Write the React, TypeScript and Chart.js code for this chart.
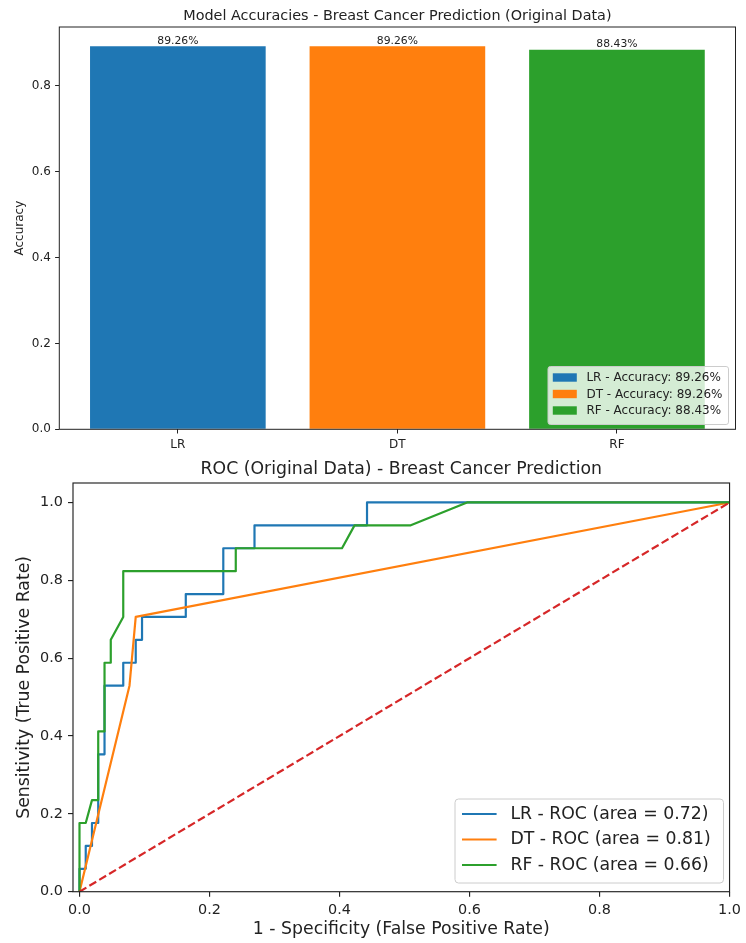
import React, { useEffect, useRef } from 'react';
import { Chart, registerables } from 'chart.js';

Chart.register(...registerables);

const FONT = '"DejaVu Sans", sans-serif';
const INK = '#222222';

// ---------- Accuracy bar chart data ----------
const models = ['LR', 'DT', 'RF'];
const accuracies = [0.8926, 0.8926, 0.8843];
const modelColors = ['#1f77b4', '#ff7f0e', '#2ca02c'];
const accTicks = [0, 0.2, 0.4, 0.6, 0.8];
const accTitle = 'Model Accuracies - Breast Cancer Prediction (Original Data)';

// ---------- ROC data ----------
const lrFpr = [0, 0, 0.0096, 0.0096, 0.0192, 0.0192, 0.0288, 0.0288, 0.0385, 0.0385, 0.0673, 0.0673, 0.0865, 0.0865, 0.0962, 0.0962, 0.1635, 0.1635, 0.2212, 0.2212, 0.2692, 0.2692, 0.4423, 0.4423, 1.0];
const lrTpr = [0, 0.0588, 0.0588, 0.1176, 0.1176, 0.1765, 0.1765, 0.3529, 0.3529, 0.5294, 0.5294, 0.5882, 0.5882, 0.6471, 0.6471, 0.7059, 0.7059, 0.7647, 0.7647, 0.8824, 0.8824, 0.9412, 0.9412, 1.0, 1.0];
const dtFpr = [0, 0.0769, 0.0865, 1.0];
const dtTpr = [0, 0.5294, 0.7059, 1.0];
const rfFpr = [0, 0, 0.0096, 0.0192, 0.0288, 0.0288, 0.0385, 0.0385, 0.0481, 0.0481, 0.0673, 0.0673, 0.2404, 0.2404, 0.4038, 0.4231, 0.5096, 0.5962, 1.0];
const rfTpr = [0, 0.1765, 0.1765, 0.2353, 0.2353, 0.4118, 0.4118, 0.5882, 0.5882, 0.6471, 0.7059, 0.8235, 0.8235, 0.8824, 0.8824, 0.9412, 0.9412, 1.0, 1.0];
const chanceFpr = [0, 1];
const chanceTpr = [0, 1];
const rocAuc = [0.72, 0.81, 0.66];
const rocTicks = [0, 0.2, 0.4, 0.6, 0.8, 1.0];
const rocTitle = 'ROC (Original Data) - Breast Cancer Prediction';
const rocXLabel = '1 - Specificity (False Positive Rate)';
const rocYLabel = 'Sensitivity (True Positive Rate)';

const toPoints = (xs: number[], ys: number[]) => xs.map((x, i) => ({ x, y: ys[i] }));

function roundRect(ctx: CanvasRenderingContext2D, x: number, y: number, w: number, h: number, r: number) {
  ctx.beginPath();
  ctx.moveTo(x + r, y);
  ctx.lineTo(x + w - r, y);
  ctx.arcTo(x + w, y, x + w, y + r, r);
  ctx.lineTo(x + w, y + h - r);
  ctx.arcTo(x + w, y + h, x + w - r, y + h, r);
  ctx.lineTo(x + r, y + h);
  ctx.arcTo(x, y + h, x, y + h - r, r);
  ctx.lineTo(x, y + r);
  ctx.arcTo(x, y, x + r, y, r);
  ctx.closePath();
}

function drawFrame(chart: any, lw: number) {
  const { ctx, chartArea: a } = chart;
  ctx.save();
  ctx.strokeStyle = INK;
  ctx.lineWidth = lw;
  ctx.strokeRect(a.left, a.top, a.right - a.left, a.bottom - a.top);
  ctx.restore();
}

const accDecor = {
  id: 'accDecor',
  afterDatasetsDraw(chart: any) {
    drawFrame(chart, 1);
  },
  afterDraw(chart: any) {
    const { ctx, chartArea: a } = chart;
    ctx.save();
    // title
    ctx.fillStyle = INK;
    ctx.font = `14.4px ${FONT}`;
    ctx.textAlign = 'center';
    ctx.textBaseline = 'alphabetic';
    ctx.fillText(accTitle, (a.left + a.right) / 2, 19.8);
    // bar labels
    const meta = chart.getDatasetMeta(0);
    ctx.font = `10.8px ${FONT}`;
    ctx.textBaseline = 'bottom';
    meta.data.forEach((el: any, i: number) => {
      ctx.fillText(`${(accuracies[i] * 100).toFixed(2)}%`, el.x, el.y);
    });
    // legend
    const bx = 548, by = 366.5, bw = 180.5, bh = 58;
    roundRect(ctx, bx, by, bw, bh, 2.4);
    ctx.fillStyle = 'rgba(255,255,255,0.8)';
    ctx.fill();
    ctx.strokeStyle = '#cccccc';
    ctx.lineWidth = 1;
    ctx.stroke();
    ctx.font = `12px ${FONT}`;
    ctx.textAlign = 'left';
    ctx.textBaseline = 'middle';
    const rows = [377.5, 394, 410.5];
    models.forEach((m, i) => {
      ctx.fillStyle = modelColors[i];
      ctx.fillRect(552.8, rows[i] - 4.2, 24, 8.4);
      ctx.fillStyle = INK;
      ctx.fillText(`${m} - Accuracy: ${(accuracies[i] * 100).toFixed(2)}%`, 586.4, rows[i] + 0.5);
    });
    ctx.restore();
  },
};

const rocDecor = {
  id: 'rocDecor',
  afterDatasetsDraw(chart: any) {
    drawFrame(chart, 1.15);
  },
  afterDraw(chart: any) {
    const { ctx, chartArea: a } = chart;
    ctx.save();
    ctx.fillStyle = INK;
    ctx.font = `17.3px ${FONT}`;
    ctx.textAlign = 'center';
    ctx.textBaseline = 'alphabetic';
    ctx.fillText(rocTitle, (a.left + a.right) / 2, 19.2);
    // legend
    const bx = 455, by = 344, bw = 268.5, bh = 84;
    roundRect(ctx, bx, by, bw, bh, 3.5);
    ctx.fillStyle = 'rgba(255,255,255,0.8)';
    ctx.fill();
    ctx.strokeStyle = '#cccccc';
    ctx.lineWidth = 1;
    ctx.stroke();
    const rows = [359, 384.5, 410];
    ctx.font = `17.3px ${FONT}`;
    ctx.textAlign = 'left';
    ctx.textBaseline = 'middle';
    models.forEach((m, i) => {
      ctx.strokeStyle = modelColors[i];
      ctx.lineWidth = 2.2;
      ctx.beginPath();
      ctx.moveTo(462, rows[i]);
      ctx.lineTo(496.6, rows[i]);
      ctx.stroke();
      ctx.fillStyle = INK;
      ctx.fillText(`${m} - ROC (area = ${rocAuc[i].toFixed(2)})`, 510.4, rows[i] + 0.5);
    });
    ctx.restore();
  },
};

const tickGrid = (len: number, lw: number) => ({
  display: true,
  drawOnChartArea: false,
  drawTicks: true,
  tickLength: len,
  color: INK,
  lineWidth: lw,
  offset: false,
});

function accConfig(): any {
  return {
    type: 'bar',
    data: {
      datasets: [
        {
          data: toPoints(models.map((_, i) => i), accuracies),
          backgroundColor: modelColors,
          borderWidth: 0,
          barPercentage: 0.8,
          categoryPercentage: 1,
        },
      ],
    },
    options: {
      responsive: false,
      animation: false,
      devicePixelRatio: 1,
      events: [],
      layout: { padding: { top: 27, right: 10.5, bottom: 0, left: 0 } },
      plugins: { legend: { display: false }, tooltip: { enabled: false }, title: { display: false } },
      scales: {
        x: {
          type: 'linear',
          min: -0.54,
          max: 2.54,
          offset: false,
          afterBuildTicks: (s: any) => {
            s.ticks = models.map((_, i) => ({ value: i }));
          },
          afterFit: (s: any) => {
            s.height = 25.7;
          },
          ticks: {
            callback: (v: number) => models[Math.round(v)] ?? '',
            font: { family: FONT, size: 12 },
            color: INK,
            padding: 4.2,
            maxRotation: 0,
            autoSkip: false,
          },
          grid: tickGrid(4.2, 1),
          border: { display: false },
        },
        y: {
          type: 'linear',
          min: 0,
          max: 0.9372,
          afterBuildTicks: (s: any) => {
            s.ticks = accTicks.map((v) => ({ value: v }));
          },
          afterFit: (s: any) => {
            s.width = 59.3;
          },
          ticks: {
            callback: (v: number) => v.toFixed(1),
            font: { family: FONT, size: 12 },
            color: INK,
            padding: 4.2,
          },
          title: {
            display: true,
            text: 'Accuracy',
            font: { family: FONT, size: 12 },
            color: INK,
            padding: { top: 12.3, bottom: 0 },
          },
          grid: tickGrid(4.2, 1),
          border: { display: false },
        },
      },
    },
    plugins: [accDecor],
  };
}

function rocConfig(): any {
  const line = (xs: number[], ys: number[], color: string, order: number) => ({
    data: toPoints(xs, ys),
    borderColor: color,
    backgroundColor: color,
    borderWidth: 2.2,
    pointRadius: 0,
    showLine: true,
    fill: false,
    tension: 0,
    borderJoinStyle: 'round',
    borderCapStyle: 'butt',
    order,
  });
  return {
    type: 'scatter',
    data: {
      datasets: [
        line(lrFpr, lrTpr, modelColors[0], 3),
        line(dtFpr, dtTpr, modelColors[1], 2),
        line(rfFpr, rfTpr, modelColors[2], 1),
        { ...line(chanceFpr, chanceTpr, '#d62728', 0), borderDash: [8, 3.5] },
      ],
    },
    options: {
      responsive: false,
      animation: false,
      devicePixelRatio: 1,
      events: [],
      layout: { padding: { top: 28, right: 13.5, bottom: 0, left: 0 } },
      plugins: { legend: { display: false }, tooltip: { enabled: false }, title: { display: false } },
      scales: {
        x: {
          type: 'linear',
          min: -0.01,
          max: 1.0,
          afterBuildTicks: (s: any) => {
            s.ticks = rocTicks.map((v) => ({ value: v }));
          },
          afterFit: (s: any) => {
            s.height = 51.3;
          },
          ticks: {
            callback: (v: number) => v.toFixed(1),
            font: { family: FONT, size: 14.4 },
            color: INK,
            padding: 5,
            maxRotation: 0,
            autoSkip: false,
          },
          title: {
            display: true,
            text: rocXLabel,
            font: { family: FONT, size: 17.3 },
            color: INK,
            padding: { top: 0, bottom: 3.6 },
          },
          grid: tickGrid(5, 1.15),
          border: { display: false },
        },
        y: {
          type: 'linear',
          min: 0,
          max: 1.05,
          afterBuildTicks: (s: any) => {
            s.ticks = rocTicks.map((v) => ({ value: v }));
          },
          afterFit: (s: any) => {
            s.width = 73;
          },
          ticks: {
            callback: (v: number) => v.toFixed(1),
            font: { family: FONT, size: 14.4 },
            color: INK,
            padding: 5,
          },
          title: {
            display: true,
            text: rocYLabel,
            font: { family: FONT, size: 17.3 },
            color: INK,
            padding: { top: 14.6, bottom: 0 },
          },
          grid: tickGrid(5, 1.15),
          border: { display: false },
        },
      },
    },
    plugins: [rocDecor],
  };
}

export default function App() {
  const accRef = useRef<HTMLCanvasElement>(null);
  const rocRef = useRef<HTMLCanvasElement>(null);

  useEffect(() => {
    const c1 = new Chart(accRef.current as HTMLCanvasElement, accConfig());
    const c2 = new Chart(rocRef.current as HTMLCanvasElement, rocConfig());
    return () => {
      c1.destroy();
      c2.destroy();
    };
  }, []);

  return (
    <div style={{ position: 'absolute', left: 0, top: 0, width: 746, height: 943, background: '#ffffff' }}>
      <canvas
        ref={accRef}
        width={746}
        height={455}
        style={{ position: 'absolute', left: 0, top: 0, width: 746, height: 455, display: 'block' }}
      />
      <canvas
        ref={rocRef}
        width={746}
        height={488}
        style={{ position: 'absolute', left: 0, top: 455, width: 746, height: 488, display: 'block' }}
      />
    </div>
  );
}
